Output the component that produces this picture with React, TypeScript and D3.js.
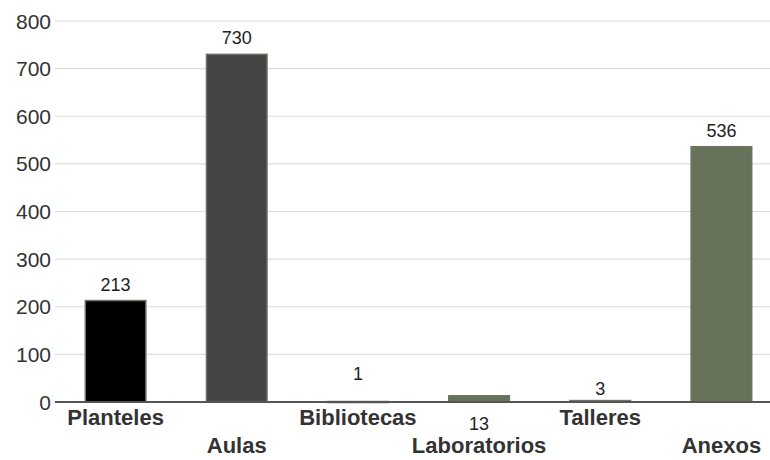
import React from "react";
import * as d3 from "d3";

const categories = ["Planteles", "Aulas", "Bibliotecas", "Laboratorios", "Talleres", "Anexos"];
const values = [213, 730, 1, 13, 3, 536];
const barColors = ["#000000", "#444444", "#667259", "#667259", "#667259", "#667259"];
const yTicks = [0, 100, 200, 300, 400, 500, 600, 700, 800];

const W = 770;
const H = 460;
const margin = { left: 55, top: 21, bottom: 58 };
const plotRight = 782;
// baseline offset (px) of each value label from its bar top (labels nudged to avoid overlaps)
const labelShift = [-10, -10, -22, 34, -6, -10];

export default function App() {
  const x = d3.scaleBand<string>().domain(categories).range([margin.left, plotRight]).paddingInner(0.5).paddingOuter(0.25);
  const y = d3.scaleLinear().domain([0, 800]).range([H - margin.bottom, margin.top]);
  const font = "'Liberation Sans', Arial, sans-serif";
  return (
    <svg width={W} height={H} style={{ position: "absolute", left: 0, top: 0, background: "#fff" }} fontFamily={font}>
      {yTicks.map((t) => (
        <g key={t}>
          {t !== 0 && <line x1={margin.left} x2={W} y1={y(t)} y2={y(t)} stroke="#dddddd" strokeWidth={1.2} />}
          <text x={51} y={y(t)} dy="0.36em" textAnchor="end" fontSize={21} fill="#333">{t}</text>
        </g>
      ))}
      {categories.map((c, i) => {
        const bx = x(c)!;
        const by = y(values[i]);
        const bh = y(0) - by;
        return (
          <g key={c}>
            <rect x={bx} y={by} width={x.bandwidth()} height={Math.max(bh, 1)} fill={barColors[i]} stroke="#6b7561" strokeWidth={1.5} />
            <text x={bx + x.bandwidth() / 2} y={by + labelShift[i]} textAnchor="middle" fontSize={18} fill="#222">
              {values[i]}
            </text>
          </g>
        );
      })}
      <line x1={margin.left} x2={W} y1={y(0)} y2={y(0)} stroke="#555" strokeWidth={2} />
      {categories.map((c, i) => (
        <text key={c} x={x(c)! + x.bandwidth() / 2} y={i % 2 === 0 ? 425 : 453} textAnchor="middle" fontSize={22} fontWeight="bold" fill="#333">
          {c}
        </text>
      ))}
    </svg>
  );
}
